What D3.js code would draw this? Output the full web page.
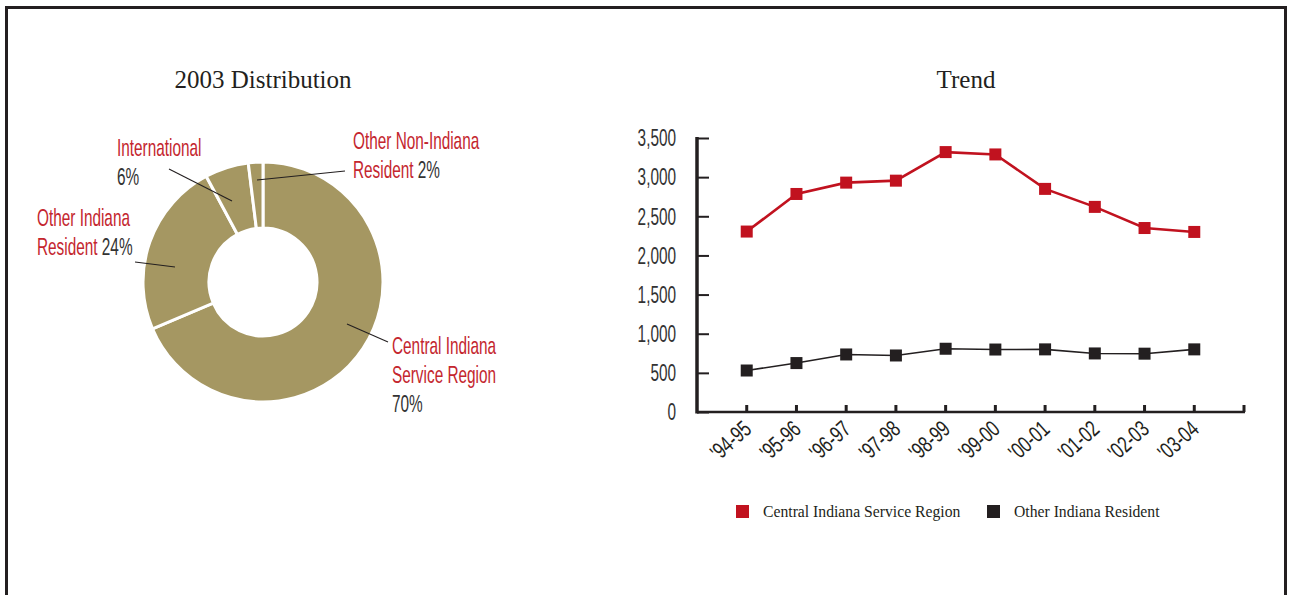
<!DOCTYPE html>
<html>
<head>
<meta charset="utf-8">
<script src="https://cdn.jsdelivr.net/npm/d3@7"></script>
<style>
  html, body { margin: 0; padding: 0; background: #fff; }
  svg { display: block; }
</style>
</head>
<body>
<svg id="chart" width="1289" height="595"></svg>
<script>
// ---- Data ----
const sliceNames = ["Central Indiana Service Region", "Other Indiana Resident", "International", "Other Non-Indiana Resident"];
const slicePercents = [70, 24, 6, 2];

const years = ["'94-95", "'95-96", "'96-97", "'97-98", "'98-99", "'99-00", "'00-01", "'01-02", "'02-03", "'03-04"];
const centralRegion = [2305, 2785, 2930, 2955, 3320, 3290, 2850, 2620, 2350, 2300];
const otherIndiana = [530, 625, 735, 722, 808, 798, 800, 748, 745, 800];
const yTicks = [0, 500, 1000, 1500, 2000, 2500, 3000, 3500];

// ---- Styles ----
const RED = "#c1121f";
const LABEL_RED = "#c4262e";
const DARK = "#231f20";
const TAN = "#a59762";
const SANS = "'Liberation Sans', Arial, sans-serif";
const SERIF = "'Liberation Serif', 'Times New Roman', serif";
const SQUEEZE = 0.64;

const svg = d3.select("#chart");

// frame around the figure (open at the bottom)
svg.append("path")
  .attr("d", "M6.5,600 V7.5 H1285.5 V600")
  .attr("fill", "none")
  .attr("stroke", DARK)
  .attr("stroke-width", 3);

// condensed text helper: draws text squeezed horizontally
function condensed(parent, x, y, rotate, squeeze = SQUEEZE) {
  const g = parent.append("g")
    .attr("transform", `translate(${x},${y})` + (rotate ? ` rotate(${rotate})` : "") + ` scale(${squeeze},1)`);
  return g.append("text").attr("font-family", SANS);
}

// ---- Left panel: 2003 distribution donut ----
svg.append("text")
  .attr("x", 263).attr("y", 88)
  .attr("text-anchor", "middle")
  .attr("font-family", SERIF)
  .attr("font-size", 25)
  .attr("fill", DARK)
  .text("2003 Distribution");

const cx = 263, cy = 282;
const pie = d3.pie().sort(null).value(d => d)(slicePercents);
const arc = d3.arc().innerRadius(54).outerRadius(120);

const donut = svg.append("g").attr("transform", `translate(${cx},${cy})`);
donut.selectAll("path")
  .data(pie)
  .join("path")
  .attr("d", arc)
  .attr("fill", TAN)
  .attr("stroke", "#fff")
  .attr("stroke-width", 3)
  .attr("stroke-linejoin", "miter");

// callout leaders and labels
const callouts = [
  { i: 0, line: [[347, 324], [388, 342]], x: 392, lines: [["Central Indiana", null], ["Service Region", null], [null, "70%"]], y0: 354 },
  { i: 1, line: [[175, 267], [135, 262]], x: 37, lines: [["Other Indiana", null], ["Resident ", "24%"]], y0: 226 },
  { i: 2, line: [[232, 201], [169, 169]], x: 117, lines: [["International", null], [null, "6%"]], y0: 156 },
  { i: 3, line: [[257, 180], [345, 171]], x: 353, lines: [["Other Non-Indiana", null], ["Resident ", "2%"]], y0: 149 }
];

callouts.forEach(c => {
  svg.append("line")
    .attr("x1", c.line[0][0]).attr("y1", c.line[0][1])
    .attr("x2", c.line[1][0]).attr("y2", c.line[1][1])
    .attr("stroke", DARK)
    .attr("stroke-width", 1.1);
  c.lines.forEach((ln, k) => {
    const t = condensed(svg, c.x, c.y0 + k * 29).attr("font-size", 24);
    if (ln[0]) t.append("tspan").attr("fill", LABEL_RED).text(ln[0]);
    if (ln[1]) t.append("tspan").attr("fill", "#333").text(ln[1]);
  });
});

// ---- Right panel: trend lines ----
svg.append("text")
  .attr("x", 966).attr("y", 88)
  .attr("text-anchor", "middle")
  .attr("font-family", SERIF)
  .attr("font-size", 25)
  .attr("fill", DARK)
  .text("Trend");

const x0 = 697, x1 = 1244, yTop = 138, yBase = 412;
const x = d3.scaleLinear().domain([0, years.length + 1]).range([x0, x1]);
const y = d3.scaleLinear().domain([0, 3500]).range([yBase, yTop]);

const plot = svg.append("g");

// y axis with inward ticks
const yAxis = d3.axisRight(y).tickValues(yTicks).tickSize(12).tickFormat("");
plot.append("g")
  .attr("transform", `translate(${x0},0)`)
  .call(yAxis)
  .call(g => g.select(".domain").remove())
  .call(g => g.selectAll(".tick line").attr("stroke", DARK).attr("stroke-width", 2));

plot.append("line")
  .attr("x1", x0).attr("x2", x0)
  .attr("y1", yTop - 1).attr("y2", yBase + 1.5)
  .attr("stroke", DARK).attr("stroke-width", 3.5);

// y tick labels
yTicks.forEach(v => {
  condensed(plot, 676, y(v))
    .attr("font-size", 24)
    .attr("text-anchor", "end")
    .attr("dominant-baseline", "central")
    .attr("fill", "#333")
    .text(d3.format(",")(v));
});

// x axis
plot.append("line")
  .attr("x1", x0).attr("x2", x1 + 1)
  .attr("y1", yBase).attr("y2", yBase)
  .attr("stroke", DARK).attr("stroke-width", 2.5);

plot.selectAll(".xtick")
  .data(d3.range(1, years.length + 2))
  .join("line")
  .attr("class", "xtick")
  .attr("x1", d => x(d)).attr("x2", d => x(d))
  .attr("y1", yBase).attr("y2", yBase - 7)
  .attr("stroke", DARK)
  .attr("stroke-width", 3);

years.forEach((label, i) => {
  condensed(plot, x(i + 1) + 6, yBase + 19, -42, 0.72)
    .attr("font-size", 23)
    .attr("text-anchor", "end")
    .attr("fill", DARK)
    .text(label);
});

// series
const line = d3.line().x((d, i) => x(i + 1)).y(d => y(d));

plot.append("path")
  .datum(otherIndiana)
  .attr("d", line)
  .attr("fill", "none")
  .attr("stroke", DARK)
  .attr("stroke-width", 1.6);

plot.append("path")
  .datum(centralRegion)
  .attr("d", line)
  .attr("fill", "none")
  .attr("stroke", RED)
  .attr("stroke-width", 2.6);

const sq = 12;
plot.selectAll(".m-other")
  .data(otherIndiana)
  .join("rect")
  .attr("class", "m-other")
  .attr("x", (d, i) => x(i + 1) - sq / 2)
  .attr("y", d => y(d) - sq / 2)
  .attr("width", sq).attr("height", sq)
  .attr("fill", DARK);

plot.selectAll(".m-central")
  .data(centralRegion)
  .join("rect")
  .attr("class", "m-central")
  .attr("x", (d, i) => x(i + 1) - sq / 2)
  .attr("y", d => y(d) - sq / 2)
  .attr("width", sq).attr("height", sq)
  .attr("fill", RED);

// legend
const legendItems = [
  { name: "Central Indiana Service Region", color: RED, x: 736 },
  { name: "Other Indiana Resident", color: DARK, x: 987 }
];
legendItems.forEach(it => {
  svg.append("rect")
    .attr("x", it.x).attr("y", 505)
    .attr("width", 13).attr("height", 13)
    .attr("fill", it.color);
  svg.append("text")
    .attr("x", it.x + 27).attr("y", 517)
    .attr("font-family", SERIF)
    .attr("font-size", 15.7)
    .attr("fill", DARK)
    .text(it.name);
});
</script>
</body>
</html>
